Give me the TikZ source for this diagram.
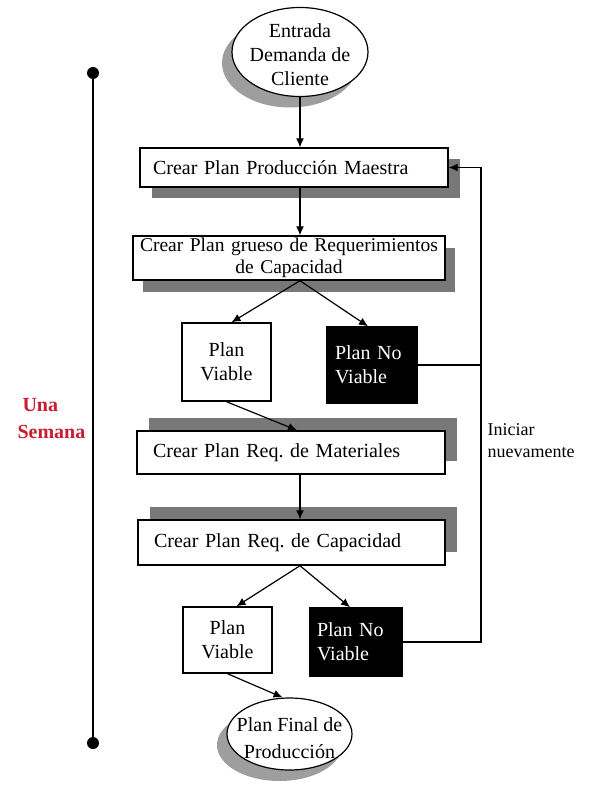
\documentclass[tikz,border=0pt]{standalone}
\usepackage{fontspec}
\setmainfont{Liberation Serif}
\usetikzlibrary{shapes.geometric,shadows,arrows.meta}
\definecolor{semred}{RGB}{200,30,50}
\definecolor{shgray}{RGB}{120,120,120}
\frenchspacing
\begin{document}
\begin{tikzpicture}[x=1pt,y=-1pt,
  every node/.style={font=\fontsize{20}{24}\selectfont},
  proc/.style={draw=black, line width=1.4pt, fill=white, rectangle, inner sep=0pt},
  shdown/.style={drop shadow={shadow xshift=12pt, shadow yshift=-11pt, fill=shgray, opacity=1}},
  shup/.style={drop shadow={shadow xshift=12pt, shadow yshift=13pt, fill=shgray, opacity=1}},
  viab/.style={draw=black, line width=1.4pt, fill=white, rectangle, inner sep=0pt, align=center},
  noviab/.style={draw=black, line width=1.4pt, fill=black, text=white, rectangle, inner sep=0pt, align=left},
  ell/.style={ellipse, draw=black, line width=1.2pt, fill=white, inner sep=0pt,
    drop shadow={shadow xshift=-10pt, shadow yshift=-11pt, fill=black!38, opacity=1}},
  arr/.style={line width=1.2pt, -{Latex[length=9pt,width=8pt]}},
  con/.style={line width=1.2pt}
]
\useasboundingbox (0,0) rectangle (595,787);

% timeline
\coordinate (tTop) at (93,73);
\coordinate (tBot) at (93,743);
\draw[line width=1.5pt] (tTop) -- (tBot);
\fill (tTop) circle (6);
\fill (tBot) circle (6);
\node[text=semred, font=\bfseries\fontsize{20}{27}\selectfont, align=left, anchor=west] (sem) at (14,419) {\hspace*{5pt}Una\\Semana};

% nodes
\node[ell, minimum width=136pt, minimum height=89pt] (start) at (300,52) {};
\node[align=center] (startText) at (300,55) {Entrada\\Demanda de\\Cliente};

\node[proc, shdown, minimum width=308pt, minimum height=39pt, text width=282pt, align=left] (b1) at (294,167.5) {Crear Plan Producción Maestra};
\node[proc, drop shadow={shadow xshift=10pt, shadow yshift=-12pt, fill=shgray, opacity=1}, minimum width=312pt, minimum height=44pt, text width=306pt, align=center, font=\fontsize{19.5}{22}\selectfont] (b2) at (289,258) {Crear Plan grueso de Requerimientos\\de Capacidad};

\node[viab, minimum width=89pt, minimum height=78pt] (pv1) at (226.5,362) {Plan\\Viable};
\node[noviab, minimum width=90pt, minimum height=76pt, text width=74pt] (pnv1) at (372,365) {Plan No\\Viable};

\node[proc, shup, minimum width=308pt, minimum height=43pt, text width=276pt, align=left] (b3) at (291,452.5) {Crear Plan Req. de Materiales};
\node[proc, shup, minimum width=307pt, minimum height=45pt, text width=275pt, align=left] (b4) at (291.5,542.5) {Crear Plan Req. de Capacidad};

\node[viab, minimum width=89pt, minimum height=66pt] (pv2) at (227.5,640) {Plan\\Viable};
\node[noviab, minimum width=92pt, minimum height=68pt, text width=78pt] (pnv2) at (356,642) {Plan No\\Viable};

\node[ell, minimum width=125pt, minimum height=72pt] (final) at (289.5,734) {};
\node[align=center, font=\fontsize{20}{27}\selectfont] (finalText) at (289.5,738) {Plan Final de\\Producción};

\node[align=left, anchor=west, font=\fontsize{18}{22}\selectfont] (ini) at (484,441) {Iniciar\\nuevamente};

% connectors
\coordinate (loop) at (481,0);
\draw[arr] (start.south) -- (start.south |- b1.north);
\draw[arr] (b1.south -| start.south) -- (b2.north -| start.south);
\draw[arr] (b2.south -| start.south) -- ([xshift=5pt]pv1.north);
\draw[arr] (b2.south -| start.south) -- ([xshift=-4pt]pnv1.north);
\draw[arr] (pv1.south) -- ([xshift=6pt]b3.north);
\draw[arr] (b3.south -| start.south) -- (b4.north -| start.south);
\draw[arr] (b4.south -| start.south) -- ([xshift=9pt]pv2.north);
\draw[arr] (b4.south -| start.south) -- ([xshift=-6pt]pnv2.north);
\draw[arr] (pv2.south) -- ([xshift=-7pt]final.north);
\draw[arr] (pnv1.east) -- (pnv1.east -| loop) -- (b1.east -| loop) -- (b1.east);
\draw[con] (pnv2.east) -- (pnv2.east -| loop) -- (pnv1.east -| loop);
\end{tikzpicture}
\end{document}
